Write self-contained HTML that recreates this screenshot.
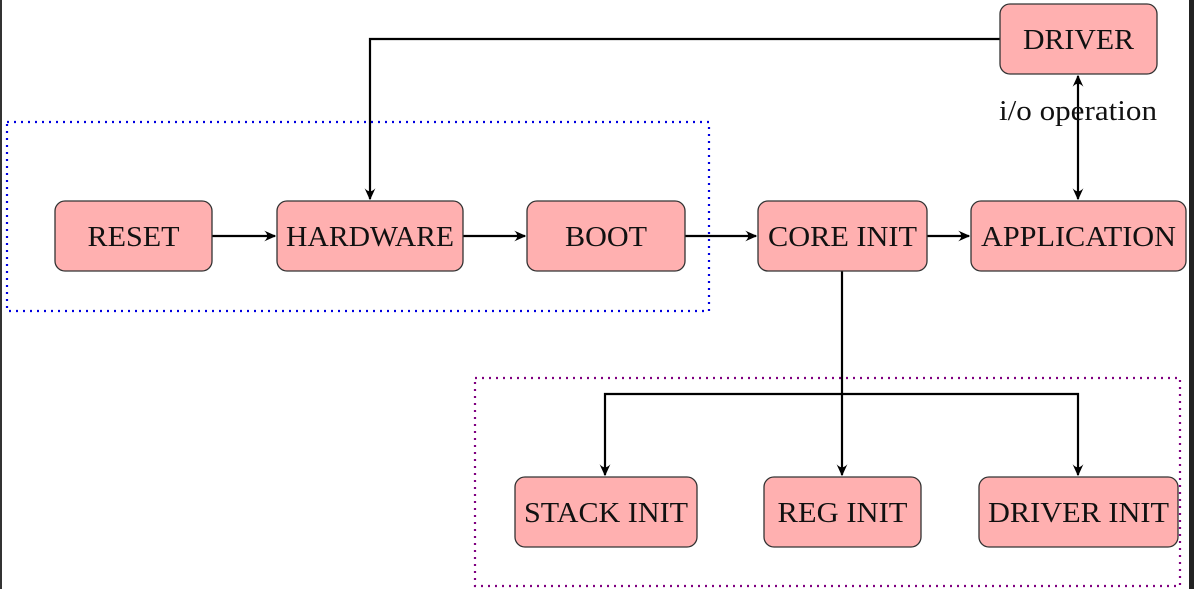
<!DOCTYPE html>
<html><head><meta charset="utf-8"><style>
html,body{margin:0;padding:0;background:#fff;}
svg{display:block;}
text{font-family:"Liberation Serif",serif;font-size:29px;fill:#111;}
</style></head><body>
<svg width="1194" height="589" viewBox="0 0 1194 589" xmlns="http://www.w3.org/2000/svg">
<defs>
<marker id="a" viewBox="0 0 10 10" refX="9" refY="5" markerWidth="12" markerHeight="12" orient="auto-start-reverse" markerUnits="userSpaceOnUse">
<path d="M0,0.5 Q5,5 0,9.5 L10,5 Z" fill="#000"/>
</marker>
</defs>
<rect x="0" y="0" width="2" height="589" fill="#333"/>
<rect x="1189" y="0" width="5" height="589" fill="#222"/>
<rect x="7" y="122" width="702" height="189" fill="none" stroke="#0000e0" stroke-width="2.2" stroke-dasharray="2,5"/>
<rect x="475" y="378" width="705" height="208" fill="none" stroke="#800080" stroke-width="2.2" stroke-dasharray="2,5"/>
<g stroke="#000" stroke-width="2.2" fill="none">
<path d="M1000,39 H370 V199" marker-end="url(#a)"/>
<path d="M1078,76 V199" marker-start="url(#a)" marker-end="url(#a)"/>
<path d="M212,236 H275" marker-end="url(#a)"/>
<path d="M463,236 H525" marker-end="url(#a)"/>
<path d="M685,236 H756" marker-end="url(#a)"/>
<path d="M927,236 H969" marker-end="url(#a)"/>
<path d="M842,271 V475" marker-end="url(#a)"/>
<path d="M605,475 V394 H1078 V475" marker-start="url(#a)" marker-end="url(#a)"/>
</g>
<g fill="#ffb0b0" stroke="#333" stroke-width="1.3">
<rect x="55" y="201" width="157" height="70" rx="10"/>
<rect x="277" y="201" width="186" height="70" rx="10"/>
<rect x="527" y="201" width="158" height="70" rx="10"/>
<rect x="758" y="201" width="169" height="70" rx="10"/>
<rect x="971" y="201" width="215" height="70" rx="10"/>
<rect x="1000" y="4" width="157" height="70" rx="10"/>
<rect x="515" y="477" width="182" height="70" rx="10"/>
<rect x="764" y="477" width="157" height="70" rx="10"/>
<rect x="979" y="477" width="199" height="70" rx="10"/>
</g>
<g text-anchor="middle">
<text x="133.5" y="246" textLength="92" lengthAdjust="spacingAndGlyphs">RESET</text>
<text x="370" y="246" textLength="168" lengthAdjust="spacingAndGlyphs">HARDWARE</text>
<text x="606" y="246" textLength="82" lengthAdjust="spacingAndGlyphs">BOOT</text>
<text x="842.5" y="246" textLength="149" lengthAdjust="spacingAndGlyphs">CORE INIT</text>
<text x="1078.5" y="246" textLength="195" lengthAdjust="spacingAndGlyphs">APPLICATION</text>
<text x="1078.5" y="49" textLength="111" lengthAdjust="spacingAndGlyphs">DRIVER</text>
<text x="606" y="522" textLength="164" lengthAdjust="spacingAndGlyphs">STACK INIT</text>
<text x="842.5" y="522" textLength="130" lengthAdjust="spacingAndGlyphs">REG INIT</text>
<text x="1078.5" y="522" textLength="181" lengthAdjust="spacingAndGlyphs">DRIVER INIT</text>
<text x="1078" y="120" textLength="158" lengthAdjust="spacingAndGlyphs">i/o operation</text>
</g>
</svg>
</body></html>
